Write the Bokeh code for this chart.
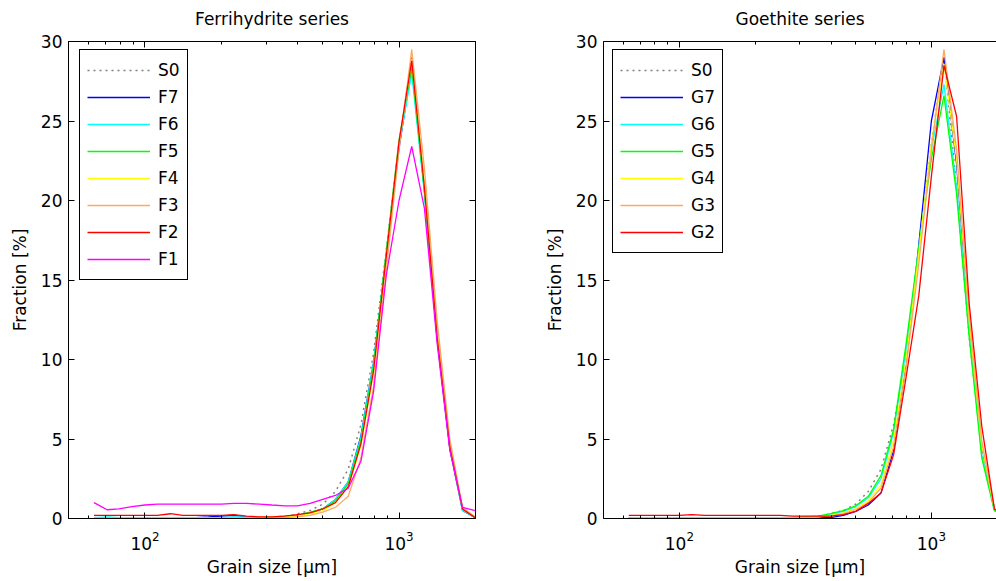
from bokeh.plotting import figure
from bokeh.models import (FixedTicker, LogAxis, LinearAxis, Legend, LegendItem, Range1d,
                          CustomJSTickFormatter)
from bokeh.layouts import row
from bokeh.embed import file_html
from bokeh.resources import INLINE

# ---------------- data ----------------
grain_size = [63, 71, 79, 89, 100, 112, 126, 141, 158, 178, 200, 224, 251, 282, 316,
              355, 398, 447, 501, 562, 631, 708, 794, 891, 1000, 1122, 1259, 1413,
              1585, 1778, 1995]

S0 = [0.05, 0.05, 0.05, 0.05, 0.05, 0.05, 0.05, 0.05, 0.05, 0.05, 0.05, 0.05, 0.05, 0.05, 0.05,
      0.1, 0.3, 0.5, 0.9, 1.7, 3.1, 5.9, 10.4, 16.9, 23.6, 29.0, 20.8, 11.4, 4.4, 0.6, 0.05]

F7 = [0.05, 0.05, 0.05, 0.05, 0.05, 0.05, 0.05, 0.05, 0.05, 0.1, 0.15, 0.2, 0.1, 0.05, 0.05,
      0.1, 0.2, 0.35, 0.6, 1.2, 2.3, 5.2, 9.8, 16.5, 23.3, 28.4, 20.6, 11.3, 4.4, 0.5, 0.05]
F6 = [0.05, 0.1, 0.05, 0.05, 0.05, 0.05, 0.05, 0.05, 0.05, 0.05, 0.05, 0.1, 0.1, 0.05, 0.05,
      0.1, 0.2, 0.35, 0.6, 1.2, 2.3, 5.1, 9.8, 16.6, 23.5, 28.0, 20.4, 11.2, 4.4, 0.5, 0.05]
F5 = [0.05, 0.05, 0.05, 0.05, 0.05, 0.05, 0.05, 0.05, 0.05, 0.05, 0.05, 0.05, 0.05, 0.05, 0.1,
      0.15, 0.2, 0.4, 0.6, 1.1, 2.2, 4.9, 9.6, 16.8, 23.8, 28.4, 20.6, 11.3, 4.5, 0.6, 0.1]
F4 = [0.05, 0.05, 0.05, 0.05, 0.05, 0.05, 0.05, 0.05, 0.05, 0.05, 0.05, 0.05, 0.05, 0.1, 0.1,
      0.1, 0.15, 0.3, 0.5, 1.0, 2.0, 4.6, 9.2, 16.3, 23.6, 28.8, 21.0, 11.8, 4.7, 0.6, 0.1]
F3 = [0.05, 0.05, 0.05, 0.05, 0.05, 0.05, 0.05, 0.05, 0.05, 0.05, 0.05, 0.05, 0.05, 0.05, 0.05,
      0.05, 0.1, 0.2, 0.4, 0.7, 1.4, 3.8, 8.3, 15.6, 23.2, 29.5, 22.0, 12.4, 5.0, 0.7, 0.1]
F2 = [0.2, 0.2, 0.2, 0.2, 0.2, 0.2, 0.3, 0.2, 0.2, 0.2, 0.2, 0.25, 0.15, 0.1, 0.1,
      0.15, 0.25, 0.35, 0.6, 1.0, 2.0, 4.7, 9.3, 16.5, 23.7, 28.8, 20.8, 11.4, 4.5, 0.6, 0.05]
F1 = [1.0, 0.55, 0.6, 0.75, 0.85, 0.9, 0.9, 0.9, 0.9, 0.9, 0.9, 0.95, 0.95, 0.9, 0.85,
      0.8, 0.8, 0.95, 1.2, 1.45, 1.9, 3.6, 8.0, 15.3, 20.0, 23.4, 19.5, 11.0, 4.3, 0.7, 0.5]

G7 = [0.05, 0.05, 0.05, 0.05, 0.05, 0.05, 0.05, 0.05, 0.05, 0.05, 0.05, 0.05, 0.05, 0.05, 0.05,
      0.05, 0.05, 0.2, 0.45, 0.85, 1.6, 4.3, 9.7, 17.2, 25.0, 29.0, 22.3, 12.3, 4.6, 0.6, 0.1]
G6 = [0.05, 0.05, 0.05, 0.05, 0.05, 0.05, 0.05, 0.05, 0.05, 0.05, 0.05, 0.05, 0.05, 0.05, 0.05,
      0.1, 0.25, 0.45, 0.75, 1.3, 2.5, 5.4, 10.6, 17.0, 23.2, 27.3, 20.8, 11.6, 4.0, 0.5, 0.1]
G5 = [0.05, 0.05, 0.05, 0.05, 0.05, 0.05, 0.05, 0.05, 0.05, 0.05, 0.05, 0.05, 0.05, 0.05, 0.1,
      0.15, 0.3, 0.5, 0.8, 1.4, 2.7, 5.6, 11.0, 17.0, 22.6, 26.6, 20.4, 11.4, 3.8, 0.5, 0.1]
G4 = [0.05, 0.05, 0.05, 0.05, 0.05, 0.05, 0.05, 0.05, 0.05, 0.05, 0.05, 0.05, 0.05, 0.05, 0.05,
      0.1, 0.2, 0.35, 0.6, 1.1, 2.1, 4.9, 10.0, 16.6, 23.6, 28.6, 22.6, 12.4, 4.6, 0.6, 0.1]
G3 = [0.05, 0.05, 0.05, 0.05, 0.05, 0.05, 0.05, 0.05, 0.05, 0.05, 0.05, 0.05, 0.05, 0.05, 0.05,
      0.1, 0.15, 0.3, 0.55, 1.0, 1.9, 4.5, 9.5, 16.0, 23.2, 29.5, 23.2, 12.8, 4.9, 0.6, 0.1]
G2 = [0.2, 0.2, 0.2, 0.2, 0.2, 0.25, 0.2, 0.2, 0.2, 0.2, 0.2, 0.2, 0.2, 0.15, 0.15,
      0.15, 0.15, 0.25, 0.45, 0.95, 1.6, 4.0, 8.9, 14.0, 21.5, 28.5, 25.3, 13.5, 5.8, 0.6, 0.1]

ferri_names = ["S0", "F7", "F6", "F5", "F4", "F3", "F2", "F1"]
ferri_series = [S0, F7, F6, F5, F4, F3, F2, F1]
goe_names = ["S0", "G7", "G6", "G5", "G4", "G3", "G2"]
goe_series = [S0, G7, G6, G5, G4, G3, G2]

colors = ["#808080", "#0000FF", "#00FFFF", "#00FF00", "#FFFF00", "#FFA860", "#FF0000", "#FF00FF"]

x_major = [100, 1000]
x_minor = [60, 70, 80, 90, 200, 300, 400, 500, 600, 700, 800, 900, 2000]
y_ticks = [0, 5, 10, 15, 20, 25, 30]

FONT = "DejaVu Sans"
FS = "17px"
H = 580
BORDER_TOP = 41
BORDER_BOTTOM = 62
FRAME_H = H - BORDER_TOP - BORDER_BOTTOM


def style_ticks(ax, major_in, minor_in):
    ax.major_tick_in = major_in
    ax.major_tick_out = 0
    ax.minor_tick_in = minor_in
    ax.minor_tick_out = 0
    ax.axis_line_color = "black"
    ax.major_tick_line_color = "black"
    ax.minor_tick_line_color = "black"


def blank_axis(cls, ticks, minor, standoff):
    ax = cls(ticker=FixedTicker(ticks=ticks, minor_ticks=minor),
             formatter=CustomJSTickFormatter(code="return ''"),
             major_label_text_font_size="1px", major_label_standoff=standoff)
    return ax


def make_panel(title, names, series, width, x_end, min_right, right_axis, legend_dx):
    p = figure(width=width, height=H, x_axis_type="log",
               x_range=Range1d(50, x_end), y_range=Range1d(0, 30),
               output_backend="svg", toolbar_location=None, title=None,
               min_border_left=68, min_border_right=min_right,
               min_border_top=BORDER_TOP, min_border_bottom=BORDER_BOTTOM)
    p.xgrid.visible = False
    p.ygrid.visible = False
    p.outline_line_color = "black" if right_axis else None
    p.outline_line_alpha = 1
    p.background_fill_color = "white"
    p.border_fill_color = "white"

    xa = p.xaxis[0]
    xa.ticker = FixedTicker(ticks=x_major, minor_ticks=x_minor)
    style_ticks(xa, 6, 3)
    xa.major_label_text_font = FONT
    xa.major_label_text_font_size = FS
    xa.major_label_text_color = "black"
    xa.major_label_standoff = 12
    xa.axis_label = "Grain size [µm]"
    xa.axis_label_text_font = FONT
    xa.axis_label_text_font_size = FS
    xa.axis_label_text_font_style = "normal"
    xa.axis_label_text_color = "black"
    xa.axis_label_standoff = 4

    ya = p.yaxis[0]
    ya.ticker = FixedTicker(ticks=y_ticks, minor_ticks=[])
    style_ticks(ya, 6, 0)
    ya.major_label_text_font = FONT
    ya.major_label_text_font_size = FS
    ya.major_label_text_color = "black"
    ya.major_label_standoff = 6
    ya.axis_label = "Fraction [%]"
    ya.axis_label_text_font = FONT
    ya.axis_label_text_font_size = FS
    ya.axis_label_text_font_style = "normal"
    ya.axis_label_text_color = "black"
    ya.axis_label_standoff = 8

    # top axis: ticks only, with the panel title as its label
    top = blank_axis(LogAxis, x_major, x_minor, 0)
    style_ticks(top, 6, 3)
    top.axis_label = title
    top.axis_label_text_font = FONT
    top.axis_label_text_font_size = FS
    top.axis_label_text_font_style = "normal"
    top.axis_label_text_color = "black"
    top.axis_label_standoff = 13
    p.add_layout(top, "above")

    if right_axis:
        ra = blank_axis(LinearAxis, y_ticks, [], 0)
        style_ticks(ra, 6, 0)
        p.add_layout(ra, "right")

    items = []
    for name, ys, col in zip(names, series, colors):
        if name == "S0":
            r = p.line(grain_size, ys, line_color=col, line_width=1.5, line_dash="2 4")
        else:
            r = p.line(grain_size, ys, line_color=col, line_width=1.3)
        items.append(LegendItem(label=name, renderers=[r]))

    row_h, spacing, pad = 26, 1, 7
    n = len(items)
    leg_h = n * row_h + (n - 1) * spacing + 2 * pad
    top_gap = 10
    legend = Legend(items=items, location=(legend_dx, FRAME_H - top_gap - leg_h),
                    label_text_font=FONT, label_text_font_size=FS, label_text_color="black",
                    glyph_width=63, glyph_height=row_h, label_height=row_h,
                    spacing=spacing, padding=pad, label_standoff=8, margin=0,
                    border_line_color="black", border_line_width=1, border_line_alpha=1,
                    background_fill_color="white", background_fill_alpha=1)
    p.add_layout(legend)
    return p


p1 = make_panel("Ferrihydrite series", ferri_names, ferri_series, 535, 2000, 60, True, 11)
p2 = make_panel("Goethite series", goe_names, goe_series, 461, 1813, 0, False, 9)

layout = row(p1, p2)
open("out.html", "w").write(file_html(layout, INLINE))
